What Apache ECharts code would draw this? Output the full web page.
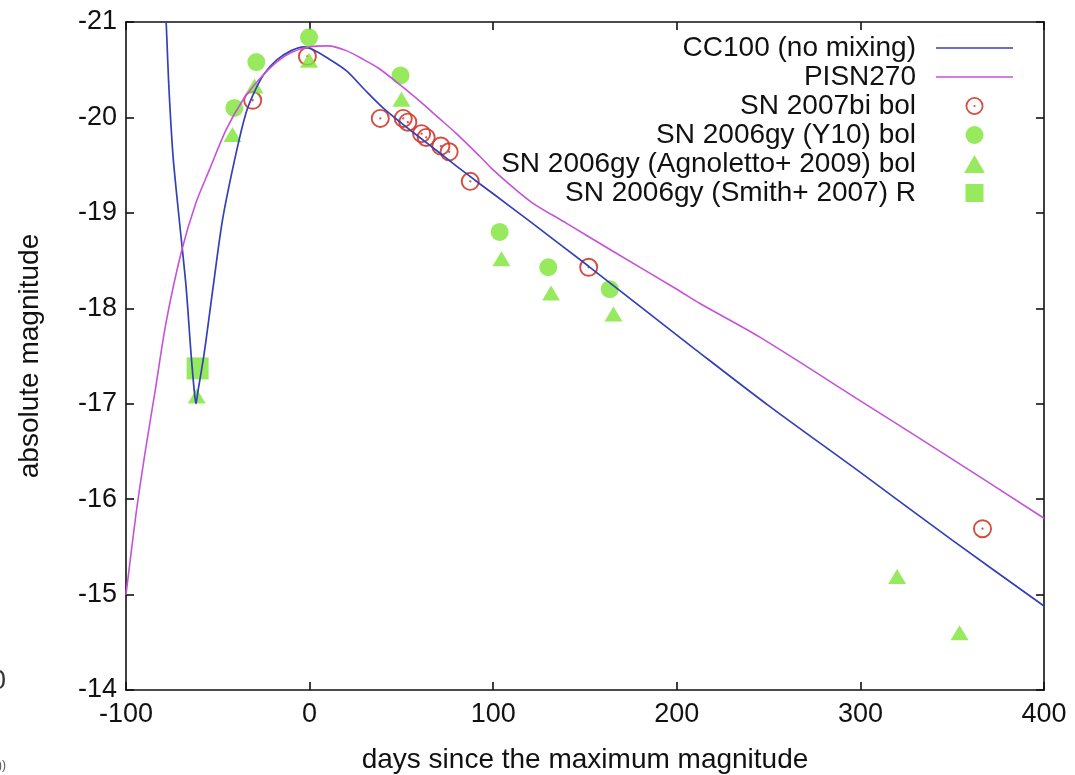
<!DOCTYPE html>
<html>
<head>
<meta charset="utf-8">
<script src="https://cdn.jsdelivr.net/npm/echarts@6/dist/echarts.min.js"></script>
<style>html,body{margin:0;padding:0;background:#fff}#c{width:1075px;height:775px}</style>
</head>
<body>
<div id="c"></div>
<script>
// ---- data (days since maximum, absolute magnitude) ----
const cc100 = [[-78.6,-21.2],[-77.8,-20.85],[-76.8,-20.38],[-75.6,-19.95],[-74.2,-19.55],[-71,-18.93],[-67.3,-18.23],[-64.6,-17.53],[-62.9,-17.15],[-61.9,-17.0],[-60.9,-17.12],[-57.4,-17.53],[-52.5,-18.23],[-47.4,-18.93],[-40.1,-19.62],[-34.6,-20.05],[-30,-20.27],[-25,-20.45],[-18,-20.6],[-10,-20.7],[-3,-20.74],[2,-20.71],[10,-20.62],[20,-20.49],[30,-20.29],[40,-20.1],[50,-19.94],[60,-19.79],[70,-19.64],[80,-19.49],[93,-19.3],[100,-19.2],[120,-18.91],[152,-18.44],[180,-18.02],[210,-17.57],[250,-16.98],[300,-16.28],[350,-15.57],[400,-14.88]];
const pisn270 = [[-100,-15.0],[-94.5,-15.85],[-89.5,-16.5],[-84,-17.15],[-78.2,-17.85],[-70,-18.58],[-62,-19.1],[-54.6,-19.45],[-45.5,-19.87],[-36.4,-20.18],[-27.4,-20.4],[-18,-20.58],[-10,-20.68],[0,-20.74],[10,-20.75],[20,-20.7],[30,-20.6],[38,-20.51],[50,-20.33],[60,-20.17],[70,-20.0],[80,-19.83],[92.8,-19.59],[100,-19.45],[110,-19.28],[121.7,-19.1],[140,-18.89],[165,-18.6],[200,-18.2],[212.6,-18.05],[245,-17.7],[300,-17.03],[350,-16.42],[400,-15.8]];
const sn2007bi = [[-31,-20.18],[-1.2,-20.64],[38.5,-19.99],[51,-19.99],[53.5,-19.95],[61,-19.83],[63.5,-19.79],[71.5,-19.7],[76,-19.64],[87.5,-19.33],[152,-18.43],[366.5,-15.69]];
const sn2006gyY10 = [[-41,-20.1],[-29,-20.58],[-0.3,-20.84],[49.5,-20.44],[103.5,-18.8],[130,-18.43],[163.5,-18.2]];
const sn2006gyAgn = [[-61.5,-17.08],[-42,-19.82],[-30,-20.33],[-0.3,-20.6],[50,-20.19],[104.5,-18.52],[131.5,-18.16],[165.5,-17.94],[320,-15.19],[354,-14.6]];
const sn2006gySmith = [[-61,-17.37]];
const seriesNames = ['CC100 (no mixing)','PISN270','SN 2007bi bol','SN 2006gy (Y10) bol','SN 2006gy (Agnoletto+ 2009) bol','SN 2006gy (Smith+ 2007) R'];
const xTicks = {min:-100, max:400, interval:100};
const yTicks = {min:-21, max:-14, interval:1};

const FONT = '"Liberation Sans", Arial, Helvetica, sans-serif';
const ringDot = 'path://M0,-10A10,10 0 1,1 0,10A10,10 0 1,1 0,-10ZM0,-8.0A8.0,8.0 0 1,0 0,8.0A8.0,8.0 0 1,0 0,-8.0ZM0,-1.2A1.2,1.2 0 1,1 0,1.2A1.2,1.2 0 1,1 0,-1.2Z';
const lineIcon = 'path://M0,0H100V2.1H0Z';
const triIcon = 'path://M0,0L10,-17.3L20,0Z';
const sqIcon = 'path://M0,0H10V10H0Z';
const BLUE = '#3340b8', MAG = '#c752da', RED = '#d03a2a', GREEN = '#7de535';

const axisCommon = () => ({
  axisLine:{show:true, onZero:false, lineStyle:{color:'#111', width:1.6}},
  axisTick:{show:true, inside:true, length:8, lineStyle:{color:'#111', width:1.6}},
  splitLine:{show:false}
});

const chart = echarts.init(document.getElementById('c'), null, {renderer:'canvas'});
chart.setOption({
  animation:false,
  backgroundColor:'#fff',
  grid:{left:126, right:31, top:22, bottom:85, containLabel:false, outerBoundsMode:'none'},
  xAxis:[
    Object.assign({type:'value', position:'bottom', min:xTicks.min, max:xTicks.max, interval:xTicks.interval,
      name:'days since the maximum magnitude', nameLocation:'middle', nameGap:56,
      nameTextStyle:{fontSize:28, fontFamily:FONT, color:'#111'},
      axisLabel:{fontSize:27, fontFamily:FONT, color:'#111', margin:11}}, axisCommon()),
    Object.assign({type:'value', position:'top', min:xTicks.min, max:xTicks.max, interval:xTicks.interval,
      axisLabel:{show:false}}, axisCommon())
  ],
  yAxis:[
    Object.assign({type:'value', position:'left', inverse:true, min:yTicks.min, max:yTicks.max, interval:yTicks.interval,
      name:'absolute magnitude', nameLocation:'middle', nameGap:82, nameRotate:90,
      nameTextStyle:{fontSize:28, fontFamily:FONT, color:'#111'},
      axisLabel:{fontSize:27, fontFamily:FONT, color:'#111', margin:9}}, axisCommon()),
    Object.assign({type:'value', position:'right', inverse:true, min:yTicks.min, max:yTicks.max, interval:yTicks.interval,
      axisLabel:{show:false}}, axisCommon())
  ],
  legend:{
    orient:'vertical', right:57, top:29, align:'right',
    itemWidth:77, itemHeight:18, itemGap:1,
    textStyle:{fontSize:28, fontFamily:FONT, color:'#111', padding:[0,15,0,0]},
    data:[
      {name:seriesNames[0], icon:lineIcon},
      {name:seriesNames[1], icon:lineIcon},
      {name:seriesNames[2], icon:ringDot},
      {name:seriesNames[3], icon:'circle'},
      {name:seriesNames[4], icon:triIcon},
      {name:seriesNames[5], icon:sqIcon}
    ]
  },
  graphic:[
    {type:'text', left:-9, top:668, style:{text:'0', fontSize:27, fontFamily:FONT, fill:'#333'}},
    {type:'text', left:-2, top:760, style:{text:'))', fontSize:12, fontFamily:FONT, fill:'#555'}}
  ],
  series:[
    {name:seriesNames[0], type:'line', data:cc100, smooth:0.3, showSymbol:false, symbol:'none', clip:true,
      lineStyle:{color:BLUE, width:1.7}, itemStyle:{color:BLUE}},
    {name:seriesNames[1], type:'line', data:pisn270, smooth:0.3, showSymbol:false, symbol:'none', clip:true,
      lineStyle:{color:MAG, width:1.6}, itemStyle:{color:MAG}},
    {name:seriesNames[2], type:'scatter', data:sn2007bi, symbol:ringDot, symbolSize:19,
      itemStyle:{color:RED, opacity:0.9}},
    {name:seriesNames[3], type:'scatter', data:sn2006gyY10, symbol:'circle', symbolSize:18,
      itemStyle:{color:GREEN}},
    {name:seriesNames[4], type:'scatter', data:sn2006gyAgn, symbol:'triangle', symbolSize:[18,15],
      itemStyle:{color:GREEN}},
    {name:seriesNames[5], type:'scatter', data:sn2006gySmith, symbol:'rect', symbolSize:22,
      itemStyle:{color:GREEN}}
  ]
});
</script>
</body>
</html>
